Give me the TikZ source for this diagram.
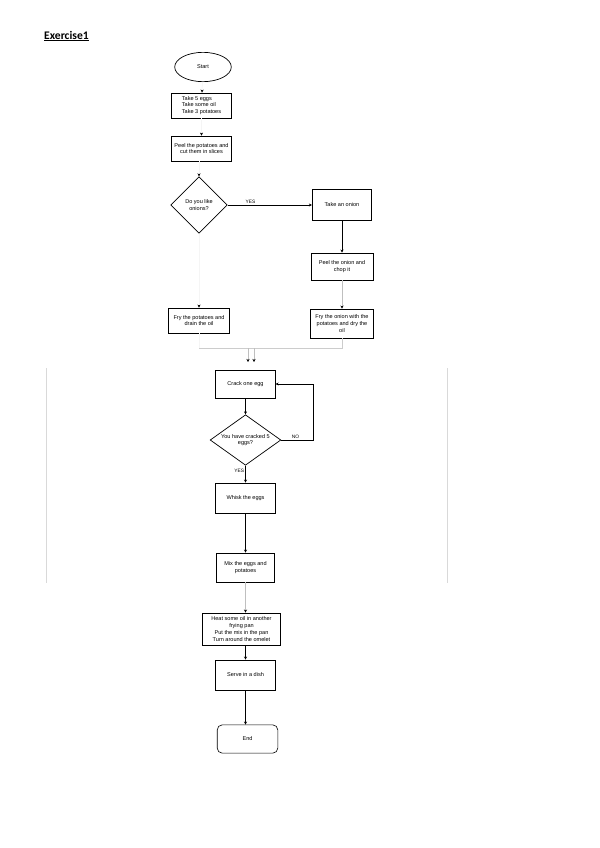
\documentclass[tikz,border=0pt]{standalone}
\usepackage{fontspec}
\setmainfont{Liberation Sans}
\newfontfamily\titlefont{Carlito}
\usetikzlibrary{arrows.meta,shapes.geometric}
\begin{document}
\begin{tikzpicture}[x=0.99pt,y=-0.99pt,
  every node/.style={font=\fontsize{5.5}{6.8}\selectfont, inner sep=1pt},
  box/.style={draw=black, line width=0.6pt, align=center, fill=white},
  dark/.style={draw=black, line width=0.7pt, -{Stealth[length=3pt,width=3pt,black]}},
  light/.style={draw=black!25, line width=0.6pt, -{Stealth[length=3pt,width=3pt,black]}},
  faint/.style={draw=black!4, line width=0.5pt, -{Stealth[length=3pt,width=3pt,black]}},
  frame/.style={draw=black!15, line width=0.6pt}]
\useasboundingbox (0,0) rectangle (600,848);
\fill[white] (0,0) rectangle (600,848);
% title
\node[anchor=west, font=\titlefont\bfseries\fontsize{11.5}{13}\selectfont] (title) at (43,36) {\underline{Exercise1}};
% large faint frame
\draw[frame] (46,368) -- (46,583);
\draw[frame] (447,368) -- (447,583);
% nodes
\node[draw=black, line width=0.7pt, ellipse, minimum width=56pt, minimum height=29pt] (start) at (203,67) {Start};
\node[box, minimum width=59pt, minimum height=25pt, align=left] (b1) at (201.5,105.5) {Take 5 eggs\\Take some oil\\Take 3 potatoes};
\node[box, minimum width=59pt, minimum height=25pt] (b2) at (201.5,148.5) {Peel the potatoes and\\cut them in slices};
\node[draw=black, line width=0.7pt, diamond, minimum width=56pt, minimum height=56pt, inner sep=0pt, align=center] (d1) at (199,205) {Do you like\\onions?};
\node[box, minimum width=59pt, minimum height=31pt] (on1) at (342,204.5) {Take an onion};
\node[box, minimum width=61pt, minimum height=27pt] (on2) at (342,266.5) {Peel the onion and\\chop it};
\node[box, minimum width=62pt, minimum height=29pt] (on3) at (342,323.5) {Fry the onion with the\\potatoes and dry the\\oil};
\node[box, minimum width=60pt, minimum height=25pt] (fp) at (199,320.5) {Fry the potatoes and\\drain the oil};
\node[box, minimum width=59pt, minimum height=28pt] (crack) at (245.5,384) {Crack one egg};
\node[draw=black, line width=0.7pt, diamond, aspect=1.4, minimum width=70pt, minimum height=50pt, inner sep=0pt, align=center] (d2) at (245.5,440) {You have cracked 5\\eggs?};
\node[box, minimum width=59pt, minimum height=30pt] (whisk) at (245.5,498) {Whisk the eggs};
\node[box, minimum width=57pt, minimum height=29pt] (mix) at (245.5,567.5) {Mix the eggs and\\potatoes};
\node[box, minimum width=77pt, minimum height=32pt] (heat) at (241.5,629) {Heat some oil in another\\frying pan\\Put the mix in the pan\\Turn around the omelet};
\node[box, minimum width=59pt, minimum height=30pt] (serve) at (245.5,675) {Serve in a dish};
\node[draw=black, line width=0.6pt, rounded corners=5pt, minimum width=60pt, minimum height=28pt] (end) at (247.5,739) {End};
% helper coordinates
\coordinate (j1) at (342,348);
\coordinate (j2) at (199,348);
\coordinate (a1) at (248,348);
\coordinate (a2) at (254,348);
\coordinate (t1) at (248,362);
\coordinate (t2) at (254,362);
\coordinate (nr) at (313,440);
\coordinate (nt) at (313,384);
% connectors
\draw[faint] (start) -- (b1);
\draw[faint] (b1) -- (b2);
\draw[faint] (b2.south -| d1.north) -- (d1.north);
\draw[dark] (d1.east) -- node[above, pos=0.27, font=\fontsize{4.8}{6}\selectfont] (yes1) {YES} (d1.east -| on1.west);
\draw[dark] (on1) -- (on2);
\draw[light] (on2) -- (on3);
\draw[faint] (d1) -- (fp);
\draw[draw=black!20, line width=0.6pt] (on3.south) -- (j1) -- (j2);
\draw[draw=black!4, line width=0.5pt] (fp) -- (j2);
\draw[light] (a1) -- (t1);
\draw[light] (a2) -- (t2);
\draw[dark] (crack) -- (d2);
\draw[dark] (d2.east) -- node[above, pos=0.45, font=\fontsize{4.8}{6}\selectfont] (no) {NO} (nr) -- (nt) -- (crack.east);
\draw[dark] (d2) -- node[left, pos=0.3, font=\fontsize{4.8}{6}\selectfont] (yes2) {YES} (whisk);
\draw[dark] (whisk) -- (mix);
\draw[light] (mix.south) -- (mix.south |- heat.north);
\draw[dark] (heat.south -| serve.north) -- (serve.north);
\draw[dark] (serve.south) -- (serve.south |- end.north);
\end{tikzpicture}
\end{document}
